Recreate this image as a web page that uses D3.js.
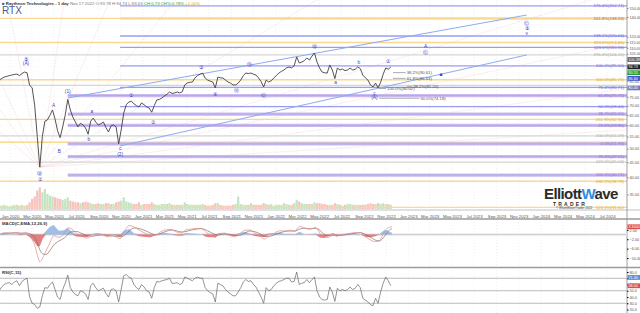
<!DOCTYPE html>
<html><head><meta charset="utf-8">
<script src="https://cdn.jsdelivr.net/npm/d3@7"></script>
<style>body{margin:0;background:#fff}svg{display:block;font-family:"Liberation Sans",Arial,sans-serif}</style>
</head><body>
<svg id="c" width="640" height="313"></svg>
<script>
// ---------------- DATA ----------------
const firstWeek = "2019-12-02";
const closes = [85.5,86.5,87.5,88.0,88.5,88.9,89.3,89.6,88.5,90.0,91.0,90.5,82.0,80.5,70.0,55.0,43.3,55.0,62.0,62.6,
65.0,67.7,63.0,57.5,54.5,59.3,65.1,73.5,67.7,64.0,61.6,59.3,61.0,60.2,58.8,56.0,62.0,63.5,61.6,60.2,
60.8,61.6,59.0,57.0,59.8,60.2,59.3,52.0,57.9,66.0,70.5,72.0,72.5,71.0,70.0,69.3,71.5,70.5,69.3,68.7,
66.5,70.0,73.2,73.5,74.3,75.5,76.5,77.9,77.0,77.3,77.9,77.3,78.0,82.3,83.6,84.0,84.2,86.9,88.5,89.5,
90.3,86.9,85.5,84.8,84.2,80.4,87.5,87.0,86.9,85.5,84.2,83.5,82.3,82.3,83.5,85.5,88.5,90.3,90.0,90.3,
89.5,88.9,86.9,84.5,81.0,85.5,84.2,85.0,86.9,88.5,90.3,91.5,92.5,94.0,94.7,94.0,95.5,102.4,97.7,98.4,
99.5,101.6,100.0,103.0,105.6,98.4,93.9,91.0,90.5,90.3,96.2,92.5,86.5,93.9,92.5,93.2,92.0,92.5,93.9,92.5,
93.0,94.7,93.5,88.9,87.0,85.5,82.3,81.0,83.5,80.4,84.0,89.5,94.0,93.0,94.7];
const volumes = [4,4,5,4,3,4,5,5,4,5,4,5,8,12,15,22,26,20,24,18,
16,15,14,13,12,11,12,14,10,9,8,8,7,8,9,8,7,6,6,7,
6,6,7,7,6,6,8,9,10,14,9,8,7,6,6,8,5,6,6,6,
8,6,5,5,6,6,6,7,5,5,5,5,5,8,6,5,5,5,5,5,
6,5,4,4,5,7,7,5,4,4,4,4,5,6,15,6,5,5,5,7,
5,5,5,5,7,6,5,6,4,5,5,5,7,6,5,5,7,11,9,7,
6,6,6,6,8,7,7,6,6,5,5,5,7,6,5,4,5,6,6,5,
5,5,5,5,5,6,7,6,6,7,6,7,6,6,5];
const rsiValues = [50,56,60,62,63,60,64,66,58,65,68,70,40,30,28,22,24,42,55,54,
60,64,52,40,36,52,62,75,55,48,44,42,50,48,45,36,58,62,55,50,
52,54,46,40,52,53,50,32,52,74,76,72,70,60,55,52,60,56,50,48,
38,55,65,64,66,67,68,70,62,62,63,60,62,72,70,68,66,70,72,70,
70,55,50,47,45,32,62,60,58,52,48,45,42,42,48,55,64,68,65,66,
60,56,48,40,30,55,50,52,58,62,65,66,68,70,70,64,65,80,60,62,
63,68,63,68,72,50,40,36,35,36,56,48,33,54,50,52,50,52,56,52,
54,60,55,38,35,32,28,26,38,30,48,62,72,66,58];
const macdDates = ["2019-12-06","2019-12-20","2020-01-03","2020-01-17","2020-01-31","2020-02-14","2020-02-28","2020-03-09","2020-03-16","2020-03-23","2020-03-31","2020-04-09","2020-04-20","2020-04-30","2020-05-14","2020-05-29","2020-06-08","2020-06-19","2020-07-02","2020-07-17","2020-07-31","2020-08-14","2020-08-28","2020-09-11","2020-09-25","2020-10-09","2020-10-30","2020-11-10","2020-11-24","2020-12-08","2020-12-22","2021-01-08","2021-01-22","2021-02-05","2021-02-19","2021-03-05","2021-03-19","2021-04-02","2021-04-16","2021-04-30","2021-05-14","2021-05-28","2021-06-11","2021-06-25","2021-07-09","2021-07-19","2021-07-30","2021-08-13","2021-08-27","2021-09-10","2021-09-24","2021-10-08","2021-10-22","2021-11-05","2021-11-19","2021-12-01","2021-12-15","2021-12-29","2022-01-12","2022-01-26","2022-02-09","2022-02-23","2022-03-08","2022-03-22","2022-04-05","2022-04-21","2022-05-03","2022-05-13","2022-05-26","2022-06-09","2022-06-17","2022-06-30","2022-07-14","2022-07-28","2022-08-11","2022-08-23","2022-09-06","2022-09-20","2022-09-30","2022-10-13","2022-10-21","2022-10-28","2022-11-04","2022-11-10","2022-11-17"];
const macdLine = [0.3,0.8,0.6,0.9,0.3,0.8,-1.5,-4.5,-8.5,-11.5,-10.0,-7.0,-3.5,-0.5,-1.2,0.3,2.8,2.4,0.5,-0.6,-1.5,-0.5,0.2,0.0,-1.0,-0.4,-1.8,1.2,3.8,3.2,1.8,0.5,-0.6,-0.3,1.2,2.0,2.2,1.2,0.6,2.0,2.3,2.6,2.5,0.8,-0.5,-1.2,0.4,0.6,-0.3,-1.0,0.2,1.8,1.9,0.6,-0.6,-1.9,-0.3,0.6,1.6,1.5,1.8,1.4,3.5,2.7,2.3,3.0,0.5,-1.2,-1.2,0.3,-0.8,-0.2,0.2,0.6,0.9,0.8,-1.0,-2.4,-3.0,-2.8,-0.8,1.2,2.6,3.1,3.3];
const signalLine = [0.2,0.5,0.6,0.7,0.6,0.6,0.1,-1.2,-3.5,-6.5,-8.2,-8.5,-6.8,-4.5,-2.8,-1.5,0.0,1.2,1.3,0.4,-0.5,-0.7,-0.4,-0.2,-0.5,-0.6,-0.9,-0.5,1.5,2.8,2.5,1.6,0.6,-0.2,0.5,1.3,1.9,1.6,1.1,1.3,1.9,2.3,2.5,1.8,0.7,0.0,-0.2,0.3,0.1,-0.4,-0.4,0.6,1.5,1.2,0.3,-0.8,-0.8,-0.1,0.7,1.3,1.5,1.5,2.3,2.7,2.4,2.6,1.8,0.3,-0.6,-0.4,-0.4,-0.4,-0.1,0.3,0.6,0.8,0.0,-1.2,-2.2,-2.7,-2.0,-0.7,0.8,1.9,2.5];

// Fibonacci / target levels
const levelValues = [152.71,138.33,138.33,120.64,114.65,110.36,104.15,95.50,85.71,82.0,80.71,75.75,69.44,65.55,62.90,59.96,55.29,52.6,51.93,47.01,45.04,40.71,38.78,31.60];
const levelLabels = ["176.4%(152.71)","161.8%(138.33)","","138.2%(120.64)","323.6%(114.65)","123.6%(110.36)","276.4%(104.15)","100.0%(95.50)","300.0%(85.71)","","76.4%(80.71)","61.8%(75.75)","50.0%(69.44)","38.2%(65.55)","261.8%(62.90)","23.6%(59.96)","200.0%(55.29)","","0.0%(51.93)","76.4%(47.01)","423.6%(45.04)","100.0%(40.71)","438.2%(38.78)","523.6%(31.60)"];
const levelKinds = ["blue","mauve","yellow","blue","yellow","blue","gray","blue","yellow","gray","blue","purple","blue","purple","yellow","purple","gray","yellow","purple","purple","gray","purple","yellow","yellow"];
const levelStarts = ["2020-10-30","2020-10-30","2019-12-01","2020-10-30","2019-12-01","2020-10-30","2019-12-01","2020-10-30","2019-12-01","2019-12-01","2020-10-30","2020-06-08","2020-10-30","2020-06-08","2019-12-01","2020-06-08","2019-12-01","2019-12-01","2020-06-08","2020-06-08","2019-12-01","2020-06-08","2019-12-01","2019-12-01"];

// short projection levels near the last price
const miniStarts = ["2022-11-20","2022-11-20","2022-10-13","2022-12-28","2022-10-13"];
const miniEnds = ["2022-12-25","2022-12-25","2022-11-01","2023-01-12","2023-02-01"];
const miniValues = [90.61,86.63,80.02,81.2,74.18];
const miniLabels = ["38.2%(90.61)","61.8%(86.63)","100.0%(80.02)","38.2%(81.20)","50.0%(74.18)"];

// channel lines
const channelStartDates = ["2020-06-08","2020-10-30"];
const channelStartPrices = [74.3,51.1];
const channelEndDates = ["2023-11-23","2023-11-23"];
const channelEndPrices = [142.1,104.0];

// speed/fan lines from the March 2020 low
const fanOriginDate = "2020-03-23", fanOriginPrice = 43.3;
const fanEndDates = ["2020-07-01","2020-12-01","2021-07-01","2022-09-01","2024-09-01","2024-09-01","2024-09-01","2024-09-01","2019-11-01","2019-11-01","2019-11-01","2019-12-20"];
const fanEndPrices = [300,240,220,200,175,115,80,58,62,78,105,170];

// wave labels
const waveDates = ["2020-02-14","2020-02-14","2020-03-23","2020-03-23","2020-04-30","2020-05-16","2020-06-08","2020-08-05","2020-08-13","2020-10-30","2020-10-30","2020-11-29","2021-01-28","2021-06-11","2021-07-17","2021-09-16","2021-10-22","2021-11-30","2022-04-18","2022-06-15","2022-08-18","2022-09-30","2022-09-30","2022-11-06","2023-02-18","2023-02-18","2023-04-02","2023-11-23","2023-11-23","2023-11-23"];
const wavePrices = [101.0,97.5,41.2,39.3,70.4,49.1,78.5,53.9,67.1,50.3,48.0,76.1,61.6,94.5,76.7,79.1,96.9,76.1,111.6,84.2,98.4,77.3,74.9,99.2,111.6,106.4,89.6,133.5,128.4,123.5];
const waveTexts = ["⑤","(A)","Ⓑ","②","A","B","(1)","b","a","c","(2)","①","②","③","④","ⓐ","ⓑ","ⓒ","Ⓑ","a","b","c","(A)","①","A","ⓒ","■","Ⓒ","⑤","v"];

const priceTicks = [150,140,120,115,110,105,100,95,90,85,80,75,70,65,60,55,50,45,40,35];
const boxValues = [100.39, 94.73, 90.55, 86.60, 80.40];
const macdTicks = [2,-2,-6,-10];
const rsiTicks = [80,70,60,50,40,30,20];
const rsiBoxValues = [71.30, 58.00];

// ---------------- DRAW ----------------
const parse = d3.timeParse("%Y-%m-%d");
const svg = d3.select("#c");
const W = 627;
const x = d3.scaleTime().domain([parse("2020-01-01"), parse("2024-07-01")]).range([10, 607]);
const y = d3.scaleLog().domain([100*Math.exp(60/128), 100*Math.exp(-150/128)]).range([0, 210]);
const yVol = d3.scaleLinear().domain([0, 30]).range([209, 184]);
const yMacd = d3.scaleLinear().domain([-13.8, 6.6]).range([267, 219]);
const yRsi = d3.scaleLinear().domain([14.4, 86.4]).range([313, 268]);

const weeks = d3.range(closes.length).map(i => d3.timeDay.offset(parse(firstWeek), 7*i));

const defs = svg.append("defs");
defs.append("clipPath").attr("id","cp").append("rect").attr("x",0).attr("y",0).attr("width",W).attr("height",210);
defs.append("clipPath").attr("id","cm").append("rect").attr("x",0).attr("y",219).attr("width",W).attr("height",48);
defs.append("clipPath").attr("id","cr").append("rect").attr("x",0).attr("y",268).attr("width",W).attr("height",45);

// vertical grid
const monthTicks = d3.timeMonth.every(2).range(parse("2020-01-01"), parse("2024-08-01"));
svg.append("g").selectAll("line").data(monthTicks).join("line")
  .attr("x1", d=>x(d)).attr("x2", d=>x(d)).attr("y1",0).attr("y2",313)
  .attr("stroke","#e6e6e6").attr("stroke-width",0.6).attr("stroke-dasharray","1,2");
svg.append("g").selectAll("line").data(priceTicks).join("line")
  .attr("x1",0).attr("x2",W).attr("y1",d=>y(d)).attr("y2",d=>y(d))
  .attr("stroke","#eeeeee").attr("stroke-width",0.5).attr("stroke-dasharray","1,2");

const main = svg.append("g").attr("clip-path","url(#cp)");

// volume
main.append("g").selectAll("rect").data(volumes).join("rect")
  .attr("x",(d,i)=>x(weeks[i])-1.1).attr("width",2.2)
  .attr("y",d=>yVol(d)).attr("height",d=>yVol(0)-yVol(d))
  .attr("fill",(d,i)=> (i>0 && closes[i]<closes[i-1]) ? "#f3a6a6" : "#a8d8a8").attr("opacity",0.7);

// fan lines
const fo = [x(parse(fanOriginDate)), y(fanOriginPrice)];
main.append("g").selectAll("line").data(fanEndDates).join("line")
  .attr("x1",fo[0]).attr("y1",fo[1])
  .attr("x2",d=>x(parse(d))).attr("y2",(d,i)=>y(fanEndPrices[i]))
  .attr("stroke","#f6c4c4").attr("stroke-width",0.5).attr("opacity",0.55);

// levels
const kindStyle = {
  blue:{c:"#9a9cf2",w:1.3,t:"#6d70e0"},
  mauve:{c:"#b0909c",w:1.6,t:"#9a6f80"},
  yellow:{c:"#f7d98f",w:1.3,t:"#e3a92e"},
  gray:{c:"#d6d6d6",w:1.2,t:"#aaaaaa"},
  purple:{c:"#c9bbef",w:3.2,t:"#8d74cf"}
};
const lv = main.append("g");
levelValues.forEach((v,i)=>{
  const s = kindStyle[levelKinds[i]];
  const x1 = Math.max(0,x(parse(levelStarts[i])));
  lv.append("line").attr("x1",x1).attr("x2",W)
    .attr("y1",y(v)).attr("y2",y(v)).attr("stroke",s.c).attr("stroke-width",s.w);
  if(levelKinds[i]==="purple"){
    lv.append("line").attr("x1",x1).attr("x2",W)
      .attr("y1",y(v)).attr("y2",y(v)).attr("stroke","#b3a0e6").attr("stroke-width",0.8);
  }
});
const ll = svg.append("g").attr("font-size",4.3);
levelValues.forEach((v,i)=>{
  if(!levelLabels[i]) return;
  const s = kindStyle[levelKinds[i]];
  ll.append("text").attr("x",624).attr("y",y(v)+1.4).attr("text-anchor","end")
    .attr("fill",s.t).text(levelLabels[i]);
});

// mini levels
const mg = svg.append("g");
miniValues.forEach((v,i)=>{
  const x1 = x(parse(miniStarts[i])), x2 = x(parse(miniEnds[i]));
  mg.append("line").attr("x1",x1).attr("x2",x2).attr("y1",y(v)).attr("y2",y(v))
    .attr("stroke","#888").attr("stroke-width",0.7);
  mg.append("text").attr("x",x2+1).attr("y",y(v)+1.4).attr("font-size",4.2).attr("fill","#555").text(miniLabels[i]);
});

// channels
main.append("g").selectAll("line").data(channelStartDates).join("line")
  .attr("x1",d=>x(parse(d))).attr("y1",(d,i)=>y(channelStartPrices[i]))
  .attr("x2",(d,i)=>x(parse(channelEndDates[i]))).attr("y2",(d,i)=>y(channelEndPrices[i]))
  .attr("stroke","#8eaaf0").attr("stroke-width",1);

// price line
main.append("path").datum(closes)
  .attr("d", d3.line().x((d,i)=>x(weeks[i])).y(d=>y(d)))
  .attr("fill","none").attr("stroke","#404040").attr("stroke-width",0.9).attr("stroke-linejoin","round");

// wave labels
svg.append("g").selectAll("text").data(waveTexts).join("text")
  .attr("x",(d,i)=>x(parse(waveDates[i]))).attr("y",(d,i)=>y(wavePrices[i])+1.8)
  .attr("text-anchor","middle").attr("font-size",4.8).attr("fill","#3a3ad0").text(d=>d);

// price axis
svg.append("rect").attr("x",W).attr("y",0).attr("width",13).attr("height",313).attr("fill","#fff");
svg.append("line").attr("x1",W).attr("x2",W).attr("y1",0).attr("y2",313).attr("stroke","#888").attr("stroke-width",0.8);
const pa = svg.append("g").attr("transform",`translate(${W},0)`)
  .call(d3.axisRight(y).tickValues(priceTicks).tickFormat(d3.format(".2f")).tickSize(1.5));
pa.select(".domain").remove();
pa.selectAll("text").attr("font-size",3.8).attr("fill","#555").attr("x",2.5);
pa.selectAll("line").attr("stroke","#888");

const boxCols = ["#666","#222","#2e9b3a","#3b5bd0","#7a7ab8"];
boxValues.forEach((v,i)=>{
  svg.append("rect").attr("x",W+0.5).attr("y",y(v)-2.4).attr("width",12.5).attr("height",4.8).attr("fill",boxCols[i]);
  svg.append("text").attr("x",W+1.5).attr("y",y(v)+1.3).attr("font-size",3.7).attr("fill","#fff").text(v.toFixed(2));
});

// x axis
svg.append("line").attr("x1",0).attr("x2",640).attr("y1",210).attr("y2",210).attr("stroke","#999").attr("stroke-width",0.6);
const xa = svg.append("g").attr("transform","translate(0,210)")
  .call(d3.axisBottom(x).tickValues(monthTicks).tickFormat(d3.timeFormat("%b %Y")).tickSize(0));
xa.select(".domain").remove();
xa.selectAll("text").attr("font-size",4.3).attr("fill","#555").attr("dy","5.3");

[219,267.5].forEach(v=>{
  svg.append("line").attr("x1",0).attr("x2",640).attr("y1",v).attr("y2",v).attr("stroke","#9a9a9a").attr("stroke-width",1.4);
});

// MACD panel
const md = macdDates.map(parse);
const hist = macdLine.map((m,i)=>m-signalLine[i]);
const mp = svg.append("g").attr("clip-path","url(#cm)");
mp.append("rect").attr("x",0).attr("y",yMacd(0.6)).attr("width",W).attr("height",yMacd(-0.6)-yMacd(0.6)).attr("fill","#eeeeee");
mp.append("line").attr("x1",0).attr("x2",W).attr("y1",yMacd(0)).attr("y2",yMacd(0)).attr("stroke","#bbb").attr("stroke-width",0.6);
mp.append("path").datum(hist).attr("fill","#8fb3e3").attr("opacity",0.85)
  .attr("d",d3.area().x((d,i)=>x(md[i])).y0(yMacd(0)).y1(d=>yMacd(Math.max(0,d))));
mp.append("path").datum(hist).attr("fill","#e06a6a").attr("opacity",0.85)
  .attr("d",d3.area().x((d,i)=>x(md[i])).y0(yMacd(0)).y1(d=>yMacd(Math.min(0,d))));
mp.append("path").datum(signalLine).attr("fill","none").attr("stroke","#8a6b6b").attr("stroke-width",0.7)
  .attr("d",d3.line().curve(d3.curveMonotoneX).x((d,i)=>x(md[i])).y(d=>yMacd(d)));
mp.append("path").datum(macdLine).attr("fill","none").attr("stroke","#e08a8a").attr("stroke-width",0.7)
  .attr("d",d3.line().curve(d3.curveMonotoneX).x((d,i)=>x(md[i])).y(d=>yMacd(d)));
svg.append("text").attr("x",2).attr("y",225).attr("font-size",4.3).attr("font-weight","bold").attr("fill","#333").text("MACD(C,EMA,12,26,9)");
const ma = svg.append("g").attr("transform",`translate(${W},0)`)
  .call(d3.axisRight(yMacd).tickValues(macdTicks).tickFormat(d3.format(".2f")).tickSize(1.5));
ma.select(".domain").remove();
ma.selectAll("text").attr("font-size",3.8).attr("fill","#555").attr("x",2.5);
const lastM = macdLine[macdLine.length-1];
svg.append("rect").attr("x",W+0.5).attr("y",yMacd(lastM)-2.4).attr("width",12.5).attr("height",4.8).attr("fill","#d9534f");
svg.append("text").attr("x",W+1.5).attr("y",yMacd(lastM)+1.3).attr("font-size",3.7).attr("fill","#fff").text(lastM.toFixed(4));

// RSI panel
const rp = svg.append("g").attr("clip-path","url(#cr)");
[70,50,30].forEach(v=>{
  rp.append("line").attr("x1",0).attr("x2",W).attr("y1",yRsi(v)).attr("y2",yRsi(v)).attr("stroke","#a8a8a8").attr("stroke-width",0.8);
});
rp.append("path").datum(rsiValues).attr("fill","none").attr("stroke","#666").attr("stroke-width",0.7)
  .attr("d",d3.line().x((d,i)=>x(weeks[i])).y(d=>yRsi(d)));
svg.append("text").attr("x",2).attr("y",274).attr("font-size",4.3).attr("font-weight","bold").attr("fill","#333").text("RSI(C,15)");
const ra = svg.append("g").attr("transform",`translate(${W},0)`)
  .call(d3.axisRight(yRsi).tickValues(rsiTicks).tickFormat(d3.format(".1f")).tickSize(1.5));
ra.select(".domain").remove();
ra.selectAll("text").attr("font-size",3.8).attr("fill","#555").attr("x",2.5);
const rsiBoxCols = ["#5b8fd8","#d9534f"];
rsiBoxValues.forEach((v,i)=>{
  svg.append("rect").attr("x",W+0.5).attr("y",yRsi(v)-2.4).attr("width",12.5).attr("height",4.8).attr("fill",rsiBoxCols[i]);
  svg.append("text").attr("x",W+1.5).attr("y",yRsi(v)+1.3).attr("font-size",3.7).attr("fill","#fff").text(v.toFixed(2));
});

// header
const hd = svg.append("text").attr("x",2).attr("y",5).attr("font-size",4.3);
hd.append("tspan").attr("fill","#3355bb").text("■ ");
hd.append("tspan").attr("font-weight","bold").attr("fill","#333").text("Raytheon Technologies - 1 day   ");
hd.append("tspan").attr("fill","#777").text("Nov 17 2022  O:93.78  H:94.74  L:93.63  ");
hd.append("tspan").attr("fill","#2e9b3a").text("CH:0.73  CH%:0.78%  ");
hd.append("tspan").attr("fill","#e0a020").text("+1.00%");
svg.append("text").attr("x",2).attr("y",14).attr("font-size",10).attr("fill","#4a5c8c").text("RTX");

// logo
const lg = svg.append("g");
const lt = lg.append("text").attr("x",544).attr("y",199).attr("font-size",15).attr("font-weight","bold").attr("fill","#2b2b2b").attr("letter-spacing",-0.6);
lt.append("tspan").text("Elliott");
lt.append("tspan").attr("fill","#2f8de0").text("W");
lt.append("tspan").text("ave");
lg.append("text").attr("x",553).attr("y",205.5).attr("font-size",5).attr("font-weight","bold").attr("fill","#2b2b2b").attr("letter-spacing",2.2).text("TRADER");
lg.append("text").attr("x",556).attr("y",209).attr("font-size",3.2).attr("fill","#444").text("© ElliottWaveTrader 2022");
</script>
</body></html>
